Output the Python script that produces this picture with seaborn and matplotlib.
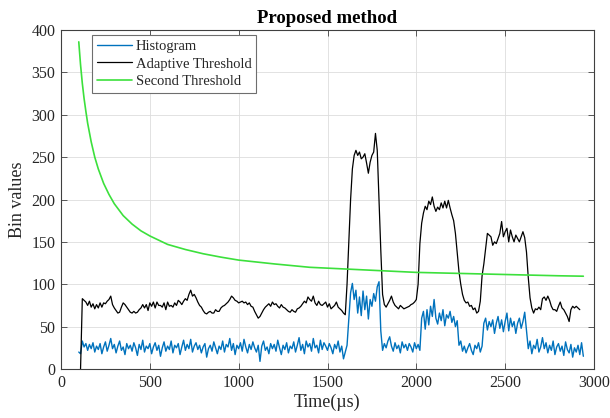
import numpy as np
import pandas as pd
import matplotlib
matplotlib.use("Agg")
import matplotlib.pyplot as plt
import seaborn as sns

# Sampling: one bin every 10 µs
step_us = 10
hist_start_us = 100
adapt_start_us = 110

# Histogram bin values (starting at 100 µs)
histogram = [
    20, 18, 33, 26, 30, 22, 29, 24, 31, 20,
    27, 23, 30, 18, 26, 32, 21, 28, 36, 24,
    29, 19, 27, 33, 22, 26, 17, 30, 24, 28,
    21, 31, 25, 16, 29, 23, 34, 20, 27, 24,
    30, 18, 26, 31, 22, 28, 15, 25, 32, 21,
    27, 23, 33, 19, 28, 25, 30, 17, 26, 34,
    22, 29, 24, 35, 20, 27, 31, 23, 28, 19,
    26, 30, 14, 24, 28, 21, 32, 25, 18, 27,
    23, 33, 20, 29, 26, 36, 22, 30, 17, 28,
    24, 31, 21, 35, 26, 19, 29, 23, 32, 25,
    20, 28, 9, 27, 33, 22, 26, 18, 30, 24,
    29, 21, 34, 25, 17, 28, 23, 31, 19, 27,
    24, 32, 20, 28, 37, 22, 29, 18, 33, 26,
    30, 21, 36, 25, 28, 19, 34, 23, 31, 27,
    22, 30, 25, 18, 29, 24, 33, 20, 27, 12,
    20, 28, 60, 90, 101, 82, 93, 66, 85, 63,
    92, 70, 86, 59, 82, 74, 89, 80, 97, 103,
    45, 22, 30, 25, 33, 38, 27, 21, 31, 24,
    28, 19, 32, 25, 29, 22, 30, 26, 20, 31,
    24, 29, 22, 60, 68, 47, 70, 52, 74, 62,
    82, 60, 53, 66, 57, 70, 51, 64, 60, 68,
    55, 62, 50, 57, 28, 33, 21, 27, 19, 25,
    30, 22, 17, 28, 24, 31, 20, 27, 54, 60,
    46, 56, 50, 58, 42, 54, 62, 48, 58, 44,
    56, 66, 45, 60, 50, 56, 42, 54, 60, 48,
    56, 67, 45, 24, 33, 18, 28, 24, 35, 20,
    26, 37, 24, 31, 19, 28, 22, 33, 17, 26,
    30, 21, 27, 16, 32, 23, 19, 29, 14, 25,
    20, 28, 17, 31, 15,
]

# Adaptive threshold (starting at 110 µs)
adaptive = [
    0, 83, 81, 79, 75, 80, 73, 77, 71, 76,
    72, 78, 73, 78, 77, 80, 82, 86, 76, 72,
    69, 66, 67, 73, 78, 76, 73, 70, 67, 66,
    68, 66, 67, 70, 72, 76, 72, 76, 69, 78,
    74, 79, 72, 79, 75, 75, 73, 78, 70, 79,
    74, 75, 73, 78, 75, 81, 79, 76, 80, 83,
    81, 88, 93, 86, 88, 84, 79, 75, 73, 69,
    66, 65, 67, 68, 66, 66, 70, 68, 68, 72,
    74, 75, 77, 79, 82, 86, 84, 81, 80, 78,
    79, 80, 78, 79, 76, 78, 74, 73, 68, 64,
    60, 62, 66, 70, 73, 75, 77, 74, 79, 76,
    77, 74, 72, 76, 73, 72, 70, 68, 67, 70,
    68, 67, 71, 72, 74, 77, 80, 78, 85, 82,
    80, 86, 78, 75, 80, 76, 75, 77, 79, 73,
    77, 71, 73, 75, 79, 73, 71, 69, 66, 64,
    100, 150, 200, 236, 252, 258, 252, 256, 248, 250,
    254, 243, 231, 244, 252, 256, 278, 258, 200, 140,
    88, 76, 73, 77, 81, 86, 79, 75, 73, 71,
    75, 73, 71, 72, 73, 74, 76, 77, 79, 82,
    100, 148, 172, 184, 192, 188, 198, 194, 203, 192,
    186, 191, 188, 196, 190, 198, 190, 199, 190, 182,
    175, 160, 138, 115, 100, 88, 81, 78, 79, 74,
    75, 70, 72, 66, 68, 80, 110, 124, 142, 160,
    158, 156, 146, 150, 148, 154, 160, 174, 156, 162,
    166, 150, 164, 156, 150, 158, 154, 150, 156, 162,
    155, 138, 108, 84, 72, 66, 71, 70, 73, 70,
    83, 85, 81, 86, 81, 74, 70, 70, 68, 74,
    79, 72, 70, 66, 62, 56, 70, 74, 72, 74,
    72, 70,
]

# Second threshold, sampled more densely where it falls steeply
second_t = [100, 110, 120, 130, 140, 150, 170, 190, 210, 240, 270, 300,
            350, 400, 450, 500, 600, 700, 800, 900, 1000, 1200, 1400,
            1600, 1800, 2000, 2200, 2400, 2600, 2800, 2940]
second_vals = [386, 359, 337, 319, 304, 290, 268, 250, 236, 219, 206, 195,
               181, 171, 163, 157, 147, 141, 136, 132, 128.5, 124, 120,
               118, 116, 114, 113, 112, 111, 110, 109.5]

x_ticks = [0, 500, 1000, 1500, 2000, 2500, 3000]
y_ticks = [0, 50, 100, 150, 200, 250, 300, 350, 400]

hist_df = pd.DataFrame({
    "t": np.arange(len(histogram)) * step_us + hist_start_us,
    "v": histogram,
})
adapt_df = pd.DataFrame({
    "t": np.arange(len(adaptive)) * step_us + adapt_start_us,
    "v": adaptive,
})
second_df = pd.DataFrame({"t": second_t, "v": second_vals})

sns.set_theme(style="ticks")
plt.rcParams["font.family"] = ["Liberation Serif", "DejaVu Serif"]

axis_gray = "#404040"
text_gray = "#262626"

fig = plt.figure(figsize=(6.1, 4.18), dpi=100)
ax = fig.add_axes([61 / 610, 1 - 369 / 418, 533 / 610, 339 / 418])

sns.lineplot(data=hist_df, x="t", y="v", ax=ax, color="#0072BD",
             linewidth=1.0, label="Histogram")
sns.lineplot(data=adapt_df, x="t", y="v", ax=ax, color="black",
             linewidth=0.9, label="Adaptive Threshold")
sns.lineplot(data=second_df, x="t", y="v", ax=ax, color="#3ce03c",
             linewidth=1.2, label="Second Threshold")

ax.set_xlim(0, 3000)
ax.set_ylim(0, 400)
ax.set_xticks(x_ticks)
ax.set_yticks(y_ticks)
ax.grid(True, color="#dddddd", linewidth=0.6)
ax.set_axisbelow(True)
for side in ["top", "right", "bottom", "left"]:
    ax.spines[side].set_visible(True)
    ax.spines[side].set_color(axis_gray)
    ax.spines[side].set_linewidth(0.8)
ax.tick_params(direction="in", top=True, right=True, length=4, width=0.6,
               color=axis_gray, labelcolor=text_gray, labelsize=11.5, pad=4)

ax.set_xlabel("Time(µs)", fontsize=13, color=text_gray, labelpad=2)
ax.set_ylabel("Bin values", fontsize=13, color=text_gray, labelpad=4)
ax.set_title("Proposed method", fontsize=13.5, fontweight="bold",
             color="black", pad=5)

leg = ax.legend(loc="upper left", bbox_to_anchor=(0.058, 0.985),
                borderaxespad=0, fontsize=10.5, frameon=True, fancybox=False,
                handlelength=2.4, handletextpad=0.3, labelspacing=0.3,
                borderpad=0.32)
leg.get_frame().set_edgecolor("#6e6e6e")
leg.get_frame().set_linewidth(0.8)
leg.get_frame().set_alpha(1)

fig.savefig("out.png", dpi=100)
